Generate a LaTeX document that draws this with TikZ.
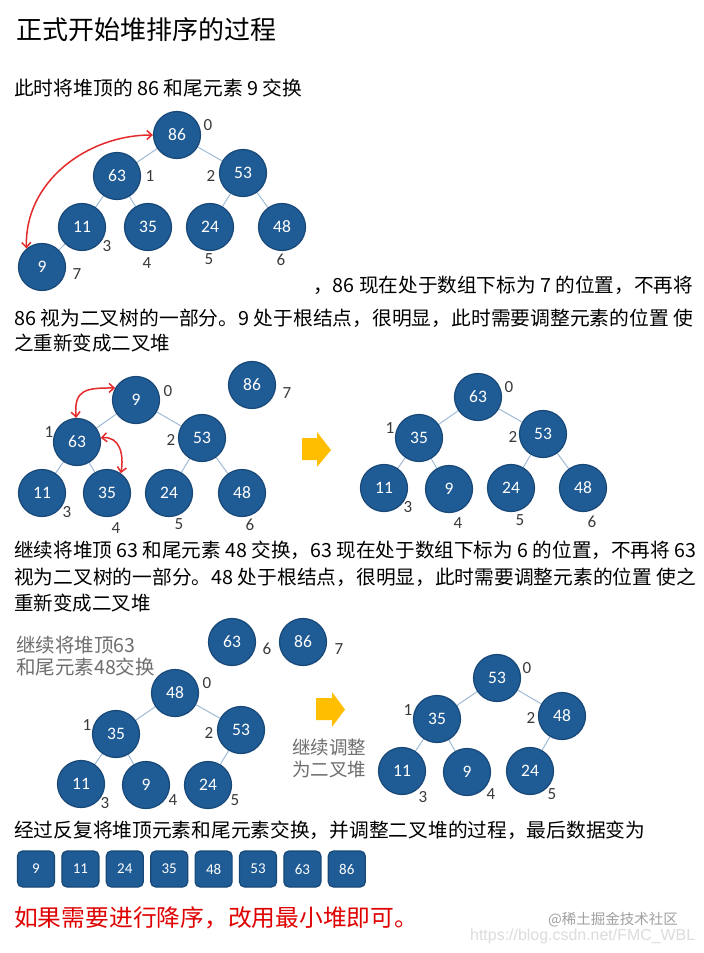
\documentclass[tikz,border=0pt]{standalone}
\usepackage{fontspec}
\setmainfont{Noto Sans CJK SC}
\newfontfamily\numfont{Carlito}
\newfontfamily\urlfont{Liberation Sans}
\usepackage{graphicx}
\usetikzlibrary{arrows.meta,backgrounds}
\definecolor{nodeblue}{HTML}{1F5B94}
\definecolor{nodeedge}{HTML}{174878}
\definecolor{treeline}{HTML}{9FBBD8}
\definecolor{swapred}{HTML}{E42A2A}
\definecolor{idxgray}{HTML}{3A3A3A}
\definecolor{arrowyellow}{HTML}{FFBE00}
\definecolor{notegray}{HTML}{6E6E6E}
\definecolor{wmgray}{HTML}{A0A0A0}
\definecolor{urlgray}{HTML}{DCDCDC}
\definecolor{bigred}{HTML}{E00000}
\pgfdeclarelayer{paper}
\pgfsetlayers{paper,background,main}
\newcommand\fitto[2]{\resizebox{#1pt}{\height}{#2}}
\tikzset{
 heapnode/.style={circle, fill=nodeblue, draw=nodeedge, line width=1.2pt, minimum size=47pt, inner sep=0pt, text=white, font=\numfont\fontsize{17.5}{18}\selectfont},
 idxlabel/.style={text=idxgray, font=\numfont\fontsize{17}{18}\selectfont, inner sep=0pt},
 treeedge/.style={draw=treeline, line width=1pt},
 swaparrow/.style={draw=swapred, line width=1.5pt, {Straight Barb[length=5pt,width=9pt]}-{Straight Barb[length=5pt,width=9pt]}},
 arrbox/.style={rectangle, rounded corners=5pt, fill=nodeblue, draw=nodeedge, line width=1.2pt, minimum width=37pt, minimum height=36pt, inner sep=0pt, text=white, font=\numfont\fontsize{15}{16}\selectfont},
 bodytext/.style={anchor=west, inner sep=0pt, font=\fontsize{19.5}{20}\selectfont},
 notetext/.style={anchor=west, inner sep=0pt, text=notegray},
}
\begin{document}
\begin{tikzpicture}[x=1pt,y=-1pt]
\begin{pgfonlayer}{paper}
\fill[white] (0,0) rectangle (704,953);
\end{pgfonlayer}
\useasboundingbox (0,0) rectangle (704,953);

% ---------- texts ----------
\node[anchor=west, inner sep=0pt, font=\fontsize{26}{28}\selectfont] (title) at (16,30) {正式开始堆排序的过程};
\node[bodytext] (t1) at (14,88) {\fitto{288}{此时将堆顶的 86 和尾元素 9 交换}};
\node[bodytext] (t2) at (313,285) {\fitto{380}{，86 现在处于数组下标为 7 的位置，不再将}};
\node[bodytext] (t3) at (14,318) {\fitto{679}{86 视为二叉树的一部分。9 处于根结点，很明显，此时需要调整元素的位置 使}};
\node[bodytext] (t4) at (14,343) {之重新变成二叉堆};
\node[bodytext] (t5) at (14,550) {\fitto{682}{继续将堆顶 63 和尾元素 48 交换，63 现在处于数组下标为 6 的位置，不再将 63}};
\node[bodytext] (t6) at (14,577) {\fitto{682}{视为二叉树的一部分。48 处于根结点，很明显，此时需要调整元素的位置 使之}};
\node[bodytext] (t7) at (14,603) {重新变成二叉堆};
\node[bodytext] (t8) at (14,830) {\fitto{631}{经过反复将堆顶元素和尾元素交换，并调整二叉堆的过程，最后数据变为}};
\node[anchor=west, inner sep=0pt, text=bigred, font=\fontsize{23.5}{25}\selectfont] (t9) at (14,918) {\fitto{404}{如果需要进行降序，改用最小堆即可。}};
\node[anchor=west, inner sep=0pt, text=wmgray, font=\fontsize{14.5}{16}\selectfont] (wm) at (548,920) {@稀土掘金技术社区};
\node[anchor=west, inner sep=0pt, text=urlgray, font=\urlfont\fontsize{16}{17}\selectfont] (url) at (470,936) {\fitto{225}{https://blog.csdn.net/FMC\_WBL}};

\node[notetext, font=\fontsize{19.5}{21}\selectfont] (n1) at (16,645) {继续将堆顶63};
\node[notetext, font=\fontsize{19.5}{21}\selectfont] (n2) at (16,667) {和尾元素48交换};
\node[notetext, font=\fontsize{18.5}{20}\selectfont] (n3) at (292,747) {继续调整};
\node[notetext, font=\fontsize{18.5}{20}\selectfont] (n4) at (292,769) {为二叉堆};

% ---------- tree 1 ----------
\node[heapnode] (a86) at (177,135) {86};
\node[heapnode] (a63) at (117,176) {63};
\node[heapnode] (a53) at (243,173) {53};
\node[heapnode] (a11) at (82,227) {11};
\node[heapnode] (a35) at (148,227) {35};
\node[heapnode] (a24) at (210,227) {24};
\node[heapnode] (a48) at (282,227) {48};
\node[heapnode] (a9) at (42,267) {9};
\begin{scope}[on background layer]
\draw[treeedge] (a86) -- (a63); \draw[treeedge] (a86) -- (a53);
\draw[treeedge] (a63) -- (a11); \draw[treeedge] (a63) -- (a35);
\draw[treeedge] (a53) -- (a24); \draw[treeedge] (a53) -- (a48);
\draw[treeedge] (a11) -- (a9);
\end{scope}
\node[idxlabel] (ai0) at (208,125) {0};
\node[idxlabel] (ai1) at (150,176) {1};
\node[idxlabel] (ai2) at (211,176) {2};
\node[idxlabel] (ai3) at (107,246) {3};
\node[idxlabel] (ai4) at (147,263) {4};
\node[idxlabel] (ai5) at (209,259) {5};
\node[idxlabel] (ai6) at (281,260) {6};
\node[idxlabel] (ai7) at (77,274) {7};
\draw[swaparrow] (a9.130) to[out=92,in=180] (a86.180);

% ---------- tree 2 left ----------
\node[heapnode] (b9) at (136,400) {9};
\node[heapnode] (b86) at (252,385) {86};
\node[heapnode] (b63) at (77,442) {63};
\node[heapnode] (b53) at (202,438) {53};
\node[heapnode] (b11) at (42,493) {11};
\node[heapnode] (b35) at (107,493) {35};
\node[heapnode] (b24) at (169,493) {24};
\node[heapnode] (b48) at (242,493) {48};
\begin{scope}[on background layer]
\draw[treeedge] (b9) -- (b63); \draw[treeedge] (b9) -- (b53);
\draw[treeedge] (b63) -- (b11); \draw[treeedge] (b63) -- (b35);
\draw[treeedge] (b53) -- (b24); \draw[treeedge] (b53) -- (b48);
\end{scope}
\node[idxlabel] (bi0) at (168,391) {0};
\node[idxlabel] (bi7) at (287,393) {7};
\node[idxlabel] (bi1) at (49,432) {1};
\node[idxlabel] (bi2) at (171,440) {2};
\node[idxlabel] (bi3) at (67,512) {3};
\node[idxlabel] (bi4) at (116,528) {4};
\node[idxlabel] (bi5) at (179,524) {5};
\node[idxlabel] (bi6) at (250,525) {6};
\draw[swaparrow] (b63.92) to[out=95,in=180,looseness=1.5] (b9.150);
\draw[swaparrow] (b63.10) to[out=5,in=80,looseness=1.2] (b35.55);

% yellow arrow 1
\fill[arrowyellow] (302,438) -- (317,438) -- (317,432) -- (331,450) -- (317,467) -- (317,460) -- (302,460) -- cycle;

% ---------- tree 2 right ----------
\node[heapnode] (c63) at (478,397) {63};
\node[heapnode] (c35) at (419,438) {35};
\node[heapnode] (c53) at (543,434) {53};
\node[heapnode] (c11) at (384,488) {11};
\node[heapnode] (c9) at (449,489) {9};
\node[heapnode] (c24) at (511,488) {24};
\node[heapnode] (c48) at (583,488) {48};
\begin{scope}[on background layer]
\draw[treeedge] (c63) -- (c35); \draw[treeedge] (c63) -- (c53);
\draw[treeedge] (c35) -- (c11); \draw[treeedge] (c35) -- (c9);
\draw[treeedge] (c53) -- (c24); \draw[treeedge] (c53) -- (c48);
\end{scope}
\node[idxlabel] (ci0) at (509,387) {0};
\node[idxlabel] (ci1) at (390,428) {1};
\node[idxlabel] (ci2) at (513,437) {2};
\node[idxlabel] (ci3) at (408,507) {3};
\node[idxlabel] (ci4) at (458,523) {4};
\node[idxlabel] (ci5) at (520,520) {5};
\node[idxlabel] (ci6) at (592,522) {6};

% ---------- tree 3 left ----------
\node[heapnode] (d63) at (232,642) {63};
\node[heapnode] (d86) at (303,642) {86};
\node[heapnode] (d48) at (175,693) {48};
\node[heapnode] (d35) at (116,734) {35};
\node[heapnode] (d53) at (241,730) {53};
\node[heapnode] (d11) at (81,784) {11};
\node[heapnode] (d9) at (146,785) {9};
\node[heapnode] (d24) at (208,785) {24};
\begin{scope}[on background layer]
\draw[treeedge] (d48) -- (d35); \draw[treeedge] (d48) -- (d53);
\draw[treeedge] (d35) -- (d11); \draw[treeedge] (d35) -- (d9);
\draw[treeedge] (d53) -- (d24);
\end{scope}
\node[idxlabel] (di6) at (267,649) {6};
\node[idxlabel] (di7) at (339,649) {7};
\node[idxlabel] (di0) at (207,683) {0};
\node[idxlabel] (di1) at (87,725) {1};
\node[idxlabel] (di2) at (209,733) {2};
\node[idxlabel] (di3) at (105,803) {3};
\node[idxlabel] (di4) at (173,800) {4};
\node[idxlabel] (di5) at (235,800) {5};

% yellow arrow 2
\fill[arrowyellow] (316,698) -- (332,698) -- (332,692) -- (345,709.5) -- (332,727) -- (332,720) -- (316,720) -- cycle;

% ---------- tree 3 right ----------
\node[heapnode] (e53) at (497,678) {53};
\node[heapnode] (e35) at (437,719) {35};
\node[heapnode] (e48) at (562,716) {48};
\node[heapnode] (e11) at (402,771) {11};
\node[heapnode] (e9) at (467,772) {9};
\node[heapnode] (e24) at (530,771) {24};
\begin{scope}[on background layer]
\draw[treeedge] (e53) -- (e35); \draw[treeedge] (e53) -- (e48);
\draw[treeedge] (e35) -- (e11); \draw[treeedge] (e35) -- (e9);
\draw[treeedge] (e48) -- (e24);
\end{scope}
\node[idxlabel] (ei0) at (527,668) {0};
\node[idxlabel] (ei1) at (408,710) {1};
\node[idxlabel] (ei2) at (531,718) {2};
\node[idxlabel] (ei3) at (423,797) {3};
\node[idxlabel] (ei4) at (491,794) {4};
\node[idxlabel] (ei5) at (552,794) {5};

% ---------- sorted array ----------
\node[arrbox] (s1) at (36,869) {9};
\node[arrbox] (s2) at (80.4,869) {11};
\node[arrbox] (s3) at (124.8,869) {24};
\node[arrbox] (s4) at (169.2,869) {35};
\node[arrbox] (s5) at (213.6,869) {48};
\node[arrbox] (s6) at (258,869) {53};
\node[arrbox] (s7) at (302.4,869) {63};
\node[arrbox] (s8) at (346.8,869) {86};
\end{tikzpicture}
\end{document}
